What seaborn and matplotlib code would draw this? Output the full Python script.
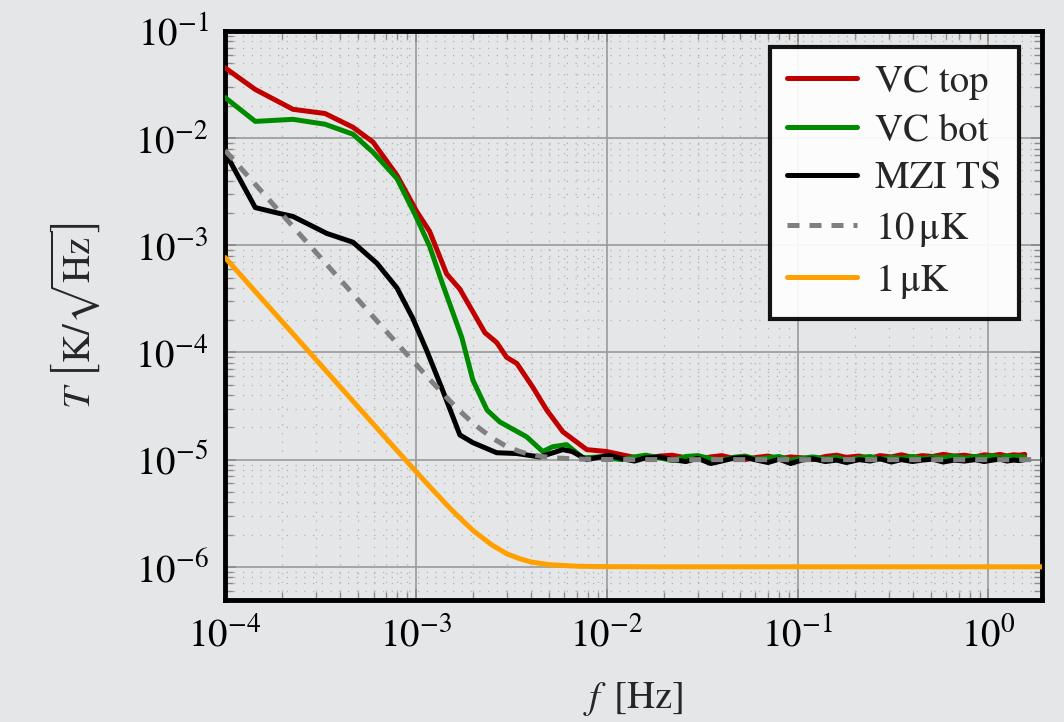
import numpy as np
import pandas as pd
import matplotlib
matplotlib.use("Agg")
import matplotlib.pyplot as plt
import matplotlib.ticker as mticker
from matplotlib.mathtext import MathTextParser
import seaborn as sns

# low frequency part of each measured curve (Hz, K/sqrt(Hz))
f_top = [1.0e-4, 1.44e-4, 2.27e-4, 3.34e-4, 4.68e-4, 5.96e-4, 7.96e-4, 1.01e-3, 1.18e-3,
         1.45e-3, 1.70e-3, 2.30e-3, 2.65e-3, 2.99e-3, 3.38e-3, 4.10e-3, 4.85e-3, 5.89e-3,
         7.86e-3, 1.0e-2]
T_top = [4.54e-2, 2.85e-2, 1.86e-2, 1.70e-2, 1.265e-2, 9.2e-3, 4.5e-3, 2.07e-3, 1.35e-3,
         5.4e-4, 3.9e-4, 1.53e-4, 1.24e-4, 9.0e-5, 7.9e-5, 4.74e-5, 2.9e-5, 1.82e-5,
         1.24e-5, 1.19e-5]

f_bot = [1.0e-4, 1.44e-4, 2.27e-4, 3.34e-4, 4.68e-4, 5.96e-4, 7.96e-4, 9.9e-4, 1.18e-3,
         1.38e-3, 1.74e-3, 1.99e-3, 2.36e-3, 2.75e-3, 3.81e-3, 4.62e-3, 5.21e-3, 6.17e-3,
         7.49e-3, 9.1e-3]
T_bot = [2.4e-2, 1.435e-2, 1.50e-2, 1.35e-2, 1.09e-2, 7.4e-3, 4.2e-3, 1.94e-3, 9.8e-4,
         4.35e-4, 1.38e-4, 5.5e-5, 2.9e-5, 2.25e-5, 1.63e-5, 1.19e-5, 1.32e-5, 1.38e-5,
         1.04e-5, 1.06e-5]

f_mzi = [1.0e-4, 1.44e-4, 1.94e-4, 2.27e-4, 3.42e-4, 4.68e-4, 6.25e-4, 7.96e-4, 9.6e-4,
         1.14e-3, 1.38e-3, 1.70e-3, 1.99e-3, 2.65e-3, 3.38e-3, 4.46e-3, 5.89e-3, 6.6e-3,
         7.86e-3, 1.03e-2]
T_mzi = [7.4e-3, 2.25e-3, 1.98e-3, 1.86e-3, 1.29e-3, 1.07e-3, 6.8e-4, 4.0e-4, 2.11e-4,
         1.04e-4, 4.45e-5, 1.70e-5, 1.44e-5, 1.16e-5, 1.14e-5, 1.06e-5, 1.24e-5, 1.19e-5,
         1.0e-5, 1.1e-5]

# noise floor region, shared frequencies (values in units of 1e-5)
f_flat = [0.012, 0.014, 0.016, 0.019, 0.022, 0.026, 0.030, 0.035, 0.040, 0.046, 0.053,
          0.061, 0.070, 0.080, 0.092, 0.105, 0.12, 0.14, 0.16, 0.18, 0.21, 0.24, 0.27,
          0.31, 0.35, 0.40, 0.45, 0.51, 0.58, 0.66, 0.75, 0.85, 0.95, 1.05, 1.15, 1.25,
          1.35, 1.45, 1.55]
flat_top = [1.11, 1.05, 1.02, 1.08, 1.10, 1.04, 1.00, 1.06, 1.09, 1.03, 1.00, 1.05, 1.08,
            1.02, 1.06, 1.04, 1.00, 1.07, 1.10, 1.05, 1.08, 1.03, 1.09, 1.06, 1.11, 1.05,
            1.09, 1.07, 1.12, 1.08, 1.10, 1.06, 1.11, 1.09, 1.12, 1.08, 1.11, 1.10, 1.12]
flat_bot = [1.00, 1.06, 1.10, 1.04, 0.98, 1.07, 1.09, 1.02, 0.99, 1.05, 1.08, 1.01, 1.04,
            1.07, 0.99, 1.03, 1.06, 1.02, 1.05, 0.99, 1.04, 1.07, 1.01, 1.05, 1.03, 1.07,
            1.02, 1.06, 1.04, 1.08, 1.03, 1.07, 1.05, 1.09, 1.04, 1.08, 1.06, 1.07, 1.05]
flat_mzi = [1.02, 0.97, 1.04, 1.06, 1.00, 0.96, 1.03, 0.92, 0.97, 1.03, 1.05, 0.99, 0.94,
            1.01, 0.92, 0.99, 1.02, 0.96, 0.99, 0.94, 1.00, 0.97, 1.02, 0.95, 1.00, 0.96,
            0.99, 1.01, 0.95, 0.99, 0.97, 1.00, 0.96, 0.99, 1.01, 0.97, 0.99, 0.98, 1.00]

# reference curves (10 uK and 1 uK)
f_ref = [1.0e-4, 1.5e-4, 2.0e-4, 3.0e-4, 5.0e-4, 7.0e-4, 1.0e-3, 1.2e-3, 1.5e-3, 1.75e-3,
         2.0e-3, 2.5e-3, 3.0e-3, 3.5e-3, 4.0e-3, 5.0e-3, 7.0e-3, 1.0e-2, 2.0e-2, 1.9]
T_10uK = [7.7e-3, 3.42e-3, 1.925e-3, 8.56e-4, 3.08e-4, 1.57e-4, 7.76e-5, 5.44e-5, 3.56e-5,
          2.71e-5, 2.17e-5, 1.60e-5, 1.32e-5, 1.19e-5, 1.11e-5, 1.046e-5, 1.012e-5,
          1.003e-5, 1.0e-5, 1.0e-5]
T_1uK = [7.7e-4, 3.42e-4, 1.925e-4, 8.56e-5, 3.08e-5, 1.57e-5, 7.76e-6, 5.44e-6, 3.56e-6,
         2.71e-6, 2.17e-6, 1.60e-6, 1.32e-6, 1.19e-6, 1.11e-6, 1.046e-6, 1.012e-6,
         1.003e-6, 1.0e-6, 1.0e-6]

labels = ["VC top", "VC bot", "MZI TS", r"10$\,\mathrm{\mu}$K", r"1$\,\mathrm{\mu}$K"]
colors = ["#c00000", "#008a00", "#000000", "#808080", "#ffa000"]


def frame(name, f, T):
    return pd.DataFrame({"f": f, "T": T, "series": name})


df = pd.concat([
    frame(labels[0], f_top + f_flat, T_top + [v * 1e-5 for v in flat_top]),
    frame(labels[1], f_bot + f_flat, T_bot + [v * 1e-5 for v in flat_bot]),
    frame(labels[2], f_mzi + f_flat, T_mzi + [v * 1e-5 for v in flat_mzi]),
    frame(labels[3], f_ref, T_10uK),
    frame(labels[4], f_ref, T_1uK),
], ignore_index=True)

sns.set_theme(style="ticks")
plt.rcParams["font.family"] = ["STIXGeneral", "DejaVu Serif"]
plt.rcParams["mathtext.fontset"] = "stix"

bg = "#e5e6e8"
fig = plt.figure(figsize=(10.64, 7.22), dpi=100, facecolor=bg)
ax = fig.add_axes([0.2115, 0.169, 0.7675, 0.788])
ax.set_facecolor(bg)

for name, col in zip(labels, colors):
    sub = df[df["series"] == name]
    ls = (0, (2.4, 2.0)) if name == labels[3] else "-"
    sns.lineplot(data=sub, x="f", y="T", ax=ax, color=col, lw=3.6, label=name,
                 estimator=None, sort=False, linestyle=ls, zorder=3)

ax.set_xscale("log")
ax.set_yscale("log")
ax.set_xlim(1e-4, 1.9)
ax.set_ylim(4.9e-7, 1e-1)

ax.xaxis.set_major_locator(mticker.LogLocator(base=10, numticks=15))
ax.yaxis.set_major_locator(mticker.LogLocator(base=10, numticks=15))
ax.xaxis.set_minor_locator(mticker.LogLocator(base=10, subs=np.arange(2, 10), numticks=15))
ax.yaxis.set_minor_locator(mticker.LogLocator(base=10, subs=np.arange(2, 10), numticks=15))
ax.xaxis.set_minor_formatter(mticker.NullFormatter())
ax.yaxis.set_minor_formatter(mticker.NullFormatter())

ax.grid(which="major", color="#9a9a9a", lw=1.2, ls="-", zorder=0)
ax.grid(which="minor", color="#b0b0b0", lw=0.9, ls=(0, (1, 6)), zorder=0)
ax.set_axisbelow(True)

ax.tick_params(which="both", direction="in", top=True, right=True, colors="#8a8a8a",
               labelcolor="black", labelsize=28, pad=12)
ax.tick_params(which="major", length=8, width=1.2)
ax.tick_params(which="minor", length=6, width=1)

for s in ax.spines.values():
    s.set_linewidth(3.5)
    s.set_color("black")

# y label with tall brackets if mathtext allows it
ylab = r"$T\ \left[\mathrm{K}/\sqrt{\mathrm{Hz}}\right]$"
for cand in [r"$T\ \Bigg[\mathrm{K}/\sqrt{\mathrm{Hz}}\,\Bigg]$",
             r"$T\ \bigg[\mathrm{K}/\sqrt{\mathrm{Hz}}\,\bigg]$"]:
    try:
        MathTextParser("path").parse(cand, dpi=100)
        ylab = cand
        break
    except Exception:
        pass

ax.set_xlabel(r"$f\ \,[\mathrm{Hz}]$", fontsize=28, labelpad=18)
ax.set_ylabel(ylab, fontsize=28, labelpad=24)

leg = ax.legend(loc="upper right", bbox_to_anchor=(0.972, 0.972), borderaxespad=0,
                fontsize=28, frameon=True, fancybox=False,
                handlelength=1.8, handletextpad=0.45, labelspacing=0.34,
                borderpad=0.45, framealpha=0.92)
leg.get_frame().set_edgecolor("black")
leg.get_frame().set_linewidth(3)
leg.get_frame().set_facecolor("white")

fig.savefig("out.png", dpi=100, facecolor=bg)
